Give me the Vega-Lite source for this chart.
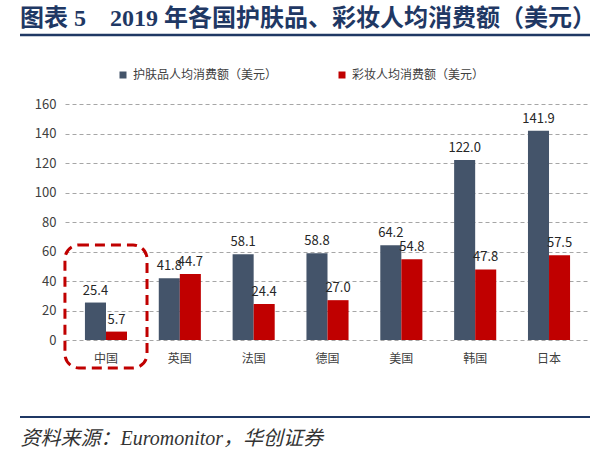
{
  "$schema": "https://vega.github.io/schema/vega-lite/v6.json",
  "autosize": "none",
  "width": 525,
  "height": 236,
  "padding": {"left": 65, "top": 104, "right": 10, "bottom": 109},
  "background": "white",
  "config": {
    "view": {"stroke": null},
    "font": "Noto Sans CJK SC",
    "axisY": {
      "domain": false, "ticks": false, "labelPadding": 9, "labelFontSize": 13, "tickCount": 12,
      "labelOverlap": false, "labelColor": "#404040", "gridDash": [4, 3], "gridColor": "#A6A6A6", "gridWidth": 1
    }
  },
  "title": {
    "text": "图表 5　2019 年各国护肤品、彩妆人均消费额（美元）",
    "anchor": "start",
    "frame": "group",
    "dx": -45,
    "offset": 3,
    "font": "Liberation Serif, Noto Sans CJK SC",
    "fontSize": 24,
    "fontWeight": "bold",
    "color": "#1F3864"
  },
  "data": {
    "values": [
      {"country": "中国", "series": "护肤品人均消费额（美元）", "value": 25.4},
      {"country": "中国", "series": "彩妆人均消费额（美元）", "value": 5.7},
      {"country": "英国", "series": "护肤品人均消费额（美元）", "value": 41.8},
      {"country": "英国", "series": "彩妆人均消费额（美元）", "value": 44.7},
      {"country": "法国", "series": "护肤品人均消费额（美元）", "value": 58.1},
      {"country": "法国", "series": "彩妆人均消费额（美元）", "value": 24.4},
      {"country": "德国", "series": "护肤品人均消费额（美元）", "value": 58.8},
      {"country": "德国", "series": "彩妆人均消费额（美元）", "value": 27.0},
      {"country": "美国", "series": "护肤品人均消费额（美元）", "value": 64.2},
      {"country": "美国", "series": "彩妆人均消费额（美元）", "value": 54.8},
      {"country": "韩国", "series": "护肤品人均消费额（美元）", "value": 122.0},
      {"country": "韩国", "series": "彩妆人均消费额（美元）", "value": 47.8},
      {"country": "日本", "series": "护肤品人均消费额（美元）", "value": 141.9},
      {"country": "日本", "series": "彩妆人均消费额（美元）", "value": 57.5}
    ]
  },
  "layer": [
    {
      "layer": [
        {
          "mark": {"type": "bar"},
          "encoding": {
            "x": {
              "field": "country", "type": "nominal",
              "scale": {"domain": ["中国", "英国", "法国", "德国", "美国", "韩国", "日本"], "paddingInner": 0.43, "paddingOuter": 0.27},
              "axis": {
                "title": "资料来源：Euromonitor，华创证券",
                "labelAngle": 0, "domain": false, "ticks": false, "labelPadding": 13,
                "labelFontSize": 12, "labelColor": "#404040",
                "titleX": -45, "titleY": 104, "titleAlign": "left", "titleAnchor": "start",
                "titleBaseline": "alphabetic", "titleFont": "Liberation Serif, Noto Sans CJK SC",
                "titleFontStyle": "italic", "titleFontWeight": "normal", "titleFontSize": 20, "titleColor": "#333333"
              }
            },
            "xOffset": {"field": "series", "type": "nominal", "scale": {"domain": ["护肤品人均消费额（美元）", "彩妆人均消费额（美元）"]}},
            "y": {
              "field": "value", "type": "quantitative",
              "scale": {"domain": [0, 160], "nice": false},
              "axis": {"title": null, "tickCount": 12, "values": [0, 20, 40, 60, 80, 100, 120, 140, 160]}
            },
            "color": {
              "field": "series", "type": "nominal",
              "scale": {"domain": ["护肤品人均消费额（美元）", "彩妆人均消费额（美元）"], "range": ["#44546A", "#C00000"]},
              "legend": {
                "title": null, "orient": "none", "legendX": 52, "legendY": -35,
                "direction": "horizontal", "symbolType": "square", "symbolSize": 49,
                "labelFontSize": 12, "labelColor": "#404040", "columnPadding": 58, "labelLimit": 300
              }
            }
          }
        },
        {
          "mark": {"type": "text", "baseline": "bottom", "dy": -5, "fontSize": 13, "color": "#262626"},
          "encoding": {
            "x": {"field": "country", "type": "nominal"},
            "xOffset": {"field": "series", "type": "nominal"},
            "y": {"field": "value", "type": "quantitative", "scale": {"domain": [0, 160], "nice": false}, "axis": {"title": null, "tickCount": 12, "values": [0, 20, 40, 60, 80, 100, 120, 140, 160]}},
            "text": {"field": "value", "type": "quantitative", "format": ".1f"}
          }
        },
        {
          "data": {"values": [{}]},
          "mark": {"type": "rect", "filled": false, "stroke": "#C00000", "strokeWidth": 3, "strokeDash": [10, 6], "cornerRadius": 14, "width": {"band": 1.95}},
          "encoding": {
            "x": {"datum": "中国", "type": "nominal"},
            "y": {"datum": 64.4, "type": "quantitative", "scale": {"domain": [0, 160], "nice": false}, "axis": {"title": null, "tickCount": 12, "values": [0, 20, 40, 60, 80, 100, 120, 140, 160]}},
            "y2": {"datum": -19}
          }
        }
      ]
    },
    {
      "data": {"values": [{}]},
      "mark": {"type": "rule", "color": "#1F3864", "strokeWidth": 2.5},
      "encoding": {
        "x": {"datum": 0, "type": "quantitative", "scale": {"domain": [0, 1], "range": [-45, 525]}, "axis": null},
        "x2": {"datum": 1},
        "y": {"datum": 206.8, "type": "quantitative", "scale": {"domain": [0, 160], "nice": false}, "axis": {"title": null, "tickCount": 12, "values": [0, 20, 40, 60, 80, 100, 120, 140, 160]}}
      }
    },
    {
      "data": {"values": [{}]},
      "mark": {"type": "rule", "color": "#1F3864", "strokeWidth": 2},
      "encoding": {
        "x": {"datum": 0, "type": "quantitative", "scale": {"domain": [0, 1], "range": [-45, 525]}, "axis": null},
        "x2": {"datum": 1},
        "y": {"datum": -52.2, "type": "quantitative", "scale": {"domain": [0, 160], "nice": false}, "axis": {"title": null, "tickCount": 12, "values": [0, 20, 40, 60, 80, 100, 120, 140, 160]}}
      }
    }
  ],
  "resolve": {"scale": {"x": "independent"}}
}
